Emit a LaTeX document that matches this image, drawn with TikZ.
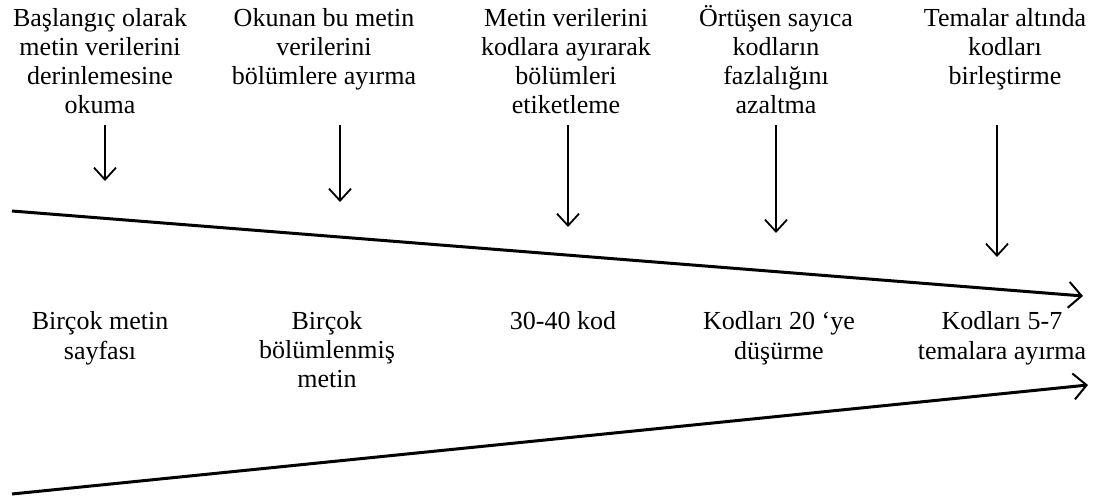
\documentclass[tikz,border=0pt]{standalone}
\usepackage{fontspec}
\setmainfont{Liberation Serif}
\usetikzlibrary{arrows.meta}
\begin{document}
\begin{tikzpicture}[x=1pt,y=-1pt,
  lbl/.style={align=center,anchor=base,inner sep=0pt,font=\fontsize{26}{29}\selectfont},
  down/.style={line width=2pt,-{Straight Barb[length=12pt,width=22pt,line width=1.8pt]}},
  long/.style={line width=3pt,-{Straight Barb[length=13pt,width=26pt,line width=2pt]}}]
\useasboundingbox (0,0) rectangle (1101,497);

% steps of the process (anchored at the baseline of the last line)
\node[lbl] (s1) at (100,114) {Başlangıç olarak\\metin verilerini\\derinlemesine\\okuma};
\node[lbl] (s2) at (324,85) {Okunan bu metin\\verilerini\\bölümlere ayırma};
\node[lbl] (s3) at (566,114) {Metin verilerini\\kodlara ayırarak\\bölümleri\\etiketleme};
\node[lbl] (s4) at (776,114) {Örtüşen sayıca\\kodların\\fazlalığını\\azaltma};
\node[lbl] (s5) at (1005,85) {Temalar altında\\kodları\\birleştirme};

% results of each step
\node[lbl] (r1) at (100,359) {Birçok metin\\sayfası};
\node[lbl] (r2) at (327,387.5) {Birçok\\bölümlenmiş\\metin};
\node[lbl] (r3) at (563,330) {30-40 kod};
\node[lbl] (r4) at (779,359) {Kodları 20 ‘ye\\düşürme};
\node[lbl] (r5) at (1002,359) {Kodları 5-7\\temalara ayırma};

% downward arrows under the steps
\coordinate (d1a) at (105,125); \coordinate (d1b) at (105,181);
\coordinate (d2a) at (340,125); \coordinate (d2b) at (340,202);
\coordinate (d3a) at (568,125); \coordinate (d3b) at (568,227);
\coordinate (d4a) at (776,125); \coordinate (d4b) at (776,233);
\coordinate (d5a) at (997,125); \coordinate (d5b) at (997,257);
\foreach \i in {1,...,5} \draw[down] (d\i a) -- (d\i b);

% converging long arrows
\coordinate (ta) at (12,211); \coordinate (tb) at (1083,296);
\coordinate (ba) at (12,494); \coordinate (bb) at (1088,385);
\draw[long] (ta) -- (tb);
\draw[long] (ba) -- (bb);
\end{tikzpicture}
\end{document}
